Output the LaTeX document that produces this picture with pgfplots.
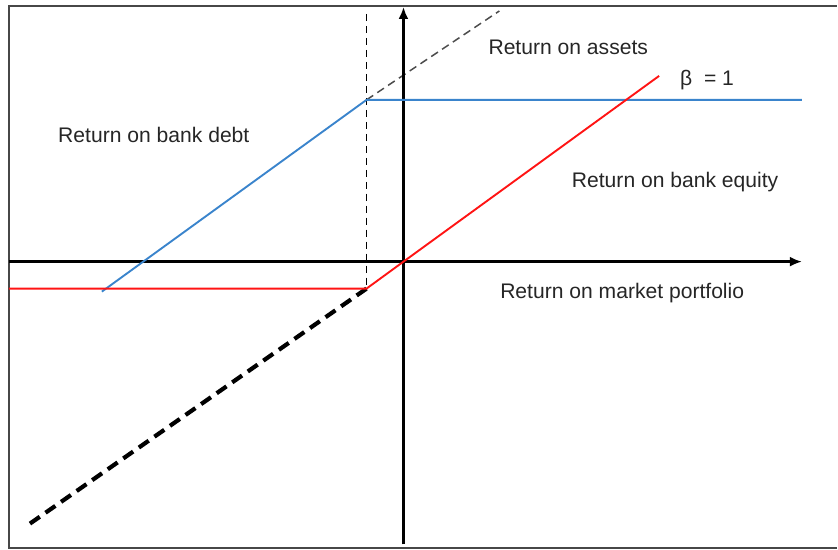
\documentclass[border=0pt]{standalone}
\usepackage{pgfplots}
\pgfplotsset{compat=1.18}
\usetikzlibrary{arrows.meta}
\usepackage{fontspec}
\setmainfont{Liberation Sans}
\definecolor{lblue}{RGB}{58,132,204}
\definecolor{lred}{RGB}{255,20,20}
\begin{document}
\begin{tikzpicture}[lbl/.style={font=\fontsize{10.6}{12.5}\selectfont, text=black!85}]
\begin{axis}[
  x=0.5bp, y=0.5bp,
  xmin=-404, xmax=434, ymin=-288, ymax=262,
  hide axis, clip=false,
]
\path (axis cs:-404,-288) rectangle (axis cs:434,262);
% frame (no right side)
\addplot[line width=1.1bp, black!72, no marks] coordinates {(434,256) (-395,256) (-395,-287) (434,-287)};
% return on assets (thin grey dashed)
\addplot[line width=0.75bp, black!70, dash pattern=on 4bp off 2.5bp, no marks] coordinates {(-37,162) (96,251)};
% vertical dashed line
\addplot[line width=0.75bp, black, dash pattern=on 3.5bp off 2.5bp, no marks] coordinates {(-37,248) (-37,-27)};
% thick dashed
\addplot[line width=2.1bp, black, dash pattern=on 6bp off 3.5bp, no marks] coordinates {(-37,-27) (-375,-263)};
% main axes
\addplot[line width=1.6bp, black, -{Latex[length=6bp,width=5bp]}, no marks] coordinates {(-395,0) (399,0)};
\addplot[line width=1.6bp, black, -{Latex[length=6bp,width=5bp]}, no marks] coordinates {(0,-283) (0,255)};
% bank debt (blue)
\addplot[line width=0.95bp, lblue, no marks] coordinates {(-302,-30) (-37,162) (399,162)};
% bank equity (red)
\addplot[line width=0.95bp, lred, no marks] coordinates {(-395,-27) (-37,-27) (0,0) (256,186)};
% labels
\node[lbl] at (axis cs:165,215) {Return on assets};
\node[lbl] at (axis cs:304,182) {β\ \ = 1};
\node[lbl] at (axis cs:-250,127) {Return on bank debt};
\node[lbl] at (axis cs:272,80) {Return on bank equity};
\node[lbl] at (axis cs:219,-31) {Return on market portfolio};
\end{axis}
\end{tikzpicture}
\end{document}
